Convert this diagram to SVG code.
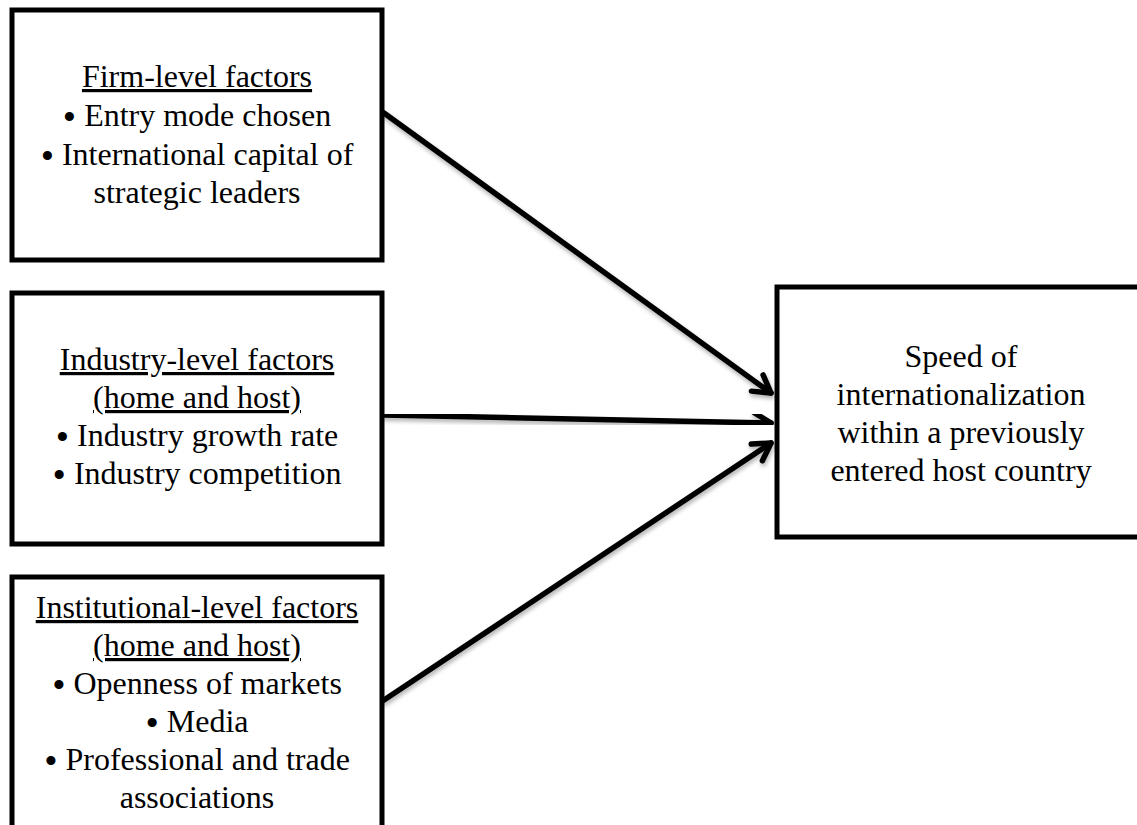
<svg xmlns="http://www.w3.org/2000/svg" width="1137" height="825" viewBox="0 0 1137 825">
<style>
.box{fill:#fff;stroke:#000;stroke-width:5}
.t{font-family:"Liberation Serif","Times New Roman",serif;font-size:32px;fill:#000;text-anchor:middle}
.u{text-decoration:underline}
.b{font-size:38px;baseline-shift:-4px}
.conn{stroke:#000;stroke-width:5.5;fill:none;stroke-linecap:round;filter:url(#sh)}
</style>
<defs>
<filter id="sh" x="-10%" y="-10%" width="120%" height="130%">
<feDropShadow dx="1" dy="3" stdDeviation="2" flood-color="#000" flood-opacity="0.3"/>
</filter>
<marker id="ah" markerUnits="userSpaceOnUse" viewBox="-22 -14 26 28" markerWidth="26" markerHeight="28" refX="0" refY="0" orient="auto">
<path d="M-17,-10 L0,0 L-17,10" fill="none" stroke="#000" stroke-width="5.5" stroke-linecap="round" stroke-linejoin="round"/>
</marker>
</defs>
<rect width="1137" height="825" fill="#fff"/>
<g id="connectors">
<line class="conn" x1="384" y1="113" x2="771" y2="393" marker-end="url(#ah)"/>
<line class="conn" x1="384" y1="415" x2="771" y2="423" marker-end="url(#ah)"/>
<line class="conn" x1="384" y1="700" x2="771" y2="443" marker-end="url(#ah)"/>
</g>
<g id="firm">
<rect class="box" x="12" y="10" width="370" height="250"/>
<text class="t u" x="197" y="87">Firm-level factors</text>
<text class="t" x="197" y="126"><tspan class="b">•</tspan> Entry mode chosen</text>
<text class="t" x="197" y="165"><tspan class="b">•</tspan> International capital of</text>
<text class="t" x="197" y="203">strategic leaders</text>
</g>
<g id="industry">
<rect class="box" x="12" y="293" width="370" height="251"/>
<text class="t u" x="197" y="370">Industry-level factors</text>
<text class="t u" x="197" y="408">(home and host)</text>
<text class="t" x="197" y="446"><tspan class="b">•</tspan> Industry growth rate</text>
<text class="t" x="197" y="484"><tspan class="b">•</tspan> Industry competition</text>
</g>
<g id="institutional">
<rect class="box" x="12" y="577" width="370" height="270"/>
<text class="t u" x="197" y="618">Institutional-level factors</text>
<text class="t u" x="197" y="656">(home and host)</text>
<text class="t" x="197" y="694"><tspan class="b">•</tspan> Openness of markets</text>
<text class="t" x="197" y="732"><tspan class="b">•</tspan> Media</text>
<text class="t" x="197" y="770"><tspan class="b">•</tspan> Professional and trade</text>
<text class="t" x="197" y="808">associations</text>
</g>
<g id="outcome">
<rect class="box" x="777" y="287" width="380" height="250"/>
<text class="t" x="961" y="367">Speed of</text>
<text class="t" x="961" y="405">internationalization</text>
<text class="t" x="961" y="443">within a previously</text>
<text class="t" x="961" y="481">entered host country</text>
</g>
</svg>
